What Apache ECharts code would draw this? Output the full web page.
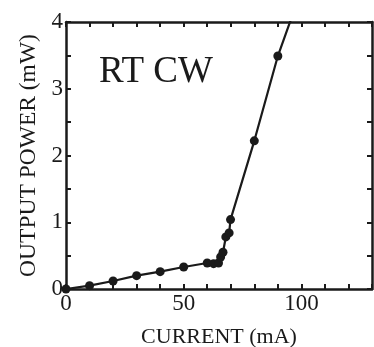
<!DOCTYPE html>
<html>
<head>
<meta charset="utf-8">
<script src="https://cdn.jsdelivr.net/npm/echarts@6/dist/echarts.min.js"></script>
<style>
  html, body { margin: 0; padding: 0; background: #fff; }
  #chart { width: 374px; height: 347px; }
</style>
</head>
<body>
<div id="chart"></div>
<script>
// measured points (mA, mW)
const current = [0, 10, 20, 30, 40, 50, 60, 62.7, 64.8, 65.7, 66.7, 67.9, 69.3, 69.9, 80, 90];
const power = [0, 0.05, 0.12, 0.2, 0.26, 0.33, 0.39, 0.38, 0.39, 0.48, 0.55, 0.78, 0.84, 1.04, 2.22, 3.49];
// line runs past the top of the frame
const lineEnd = [98, 4.28];
const xLabels = [0, 50, 100];
const yLabels = [0, 1, 2, 3, 4];

const chart = echarts.init(document.getElementById('chart'));

const ink = '#1a1a1a';
const serif = '"Liberation Serif", "DejaVu Serif", serif';

const pts = current.map((c, i) => [c, power[i]]);
pts.push({ value: lineEnd, symbol: 'none' });

const tick = { show: true, inside: true, length: 5, lineStyle: { color: ink, width: 2 } };
const frameLine = { show: true, onZero: false, lineStyle: { color: ink, width: 2.5 } };

chart.setOption({
  animation: false,
  grid: { left: 66, right: 2, top: 22, bottom: 58, outerBoundsMode: 'none' },
  xAxis: [
    {
      type: 'value', min: 0, max: 130, interval: 10,
      axisLine: frameLine, axisTick: tick, splitLine: { show: false },
      axisLabel: {
        color: ink, fontFamily: serif, fontSize: 23, margin: 3,
        formatter: v => (xLabels.includes(v) ? String(v) : '')
      },
      name: 'CURRENT (mA)', nameLocation: 'middle', nameGap: 37,
      nameTextStyle: { color: ink, fontFamily: serif, fontSize: 22 }
    },
    {
      type: 'value', position: 'top', min: 0, max: 130, interval: 10,
      axisLine: frameLine, axisTick: tick, axisLabel: { show: false }, splitLine: { show: false }
    }
  ],
  yAxis: [
    {
      type: 'value', min: 0, max: 4, interval: 0.5,
      axisLine: frameLine, axisTick: tick, splitLine: { show: false },
      axisLabel: {
        color: ink, fontFamily: serif, fontSize: 23, margin: 3,
        formatter: v => (yLabels.includes(v) ? String(v) : '')
      },
      name: 'OUTPUT POWER (mW)', nameLocation: 'middle', nameGap: 23,
      nameTextStyle: { color: ink, fontFamily: serif, fontSize: 23.5 }
    },
    {
      type: 'value', position: 'right', min: 0, max: 4, interval: 0.5,
      axisLine: frameLine, axisTick: tick, axisLabel: { show: false }, splitLine: { show: false }
    }
  ],
  graphic: [
    {
      type: 'text', left: 99, top: 54,
      style: { text: 'RT CW', fill: ink, font: '37px ' + serif }
    }
  ],
  series: [
    {
      type: 'line',
      data: pts,
      symbol: 'circle',
      symbolSize: 9,
      clip: true,
      lineStyle: { color: ink, width: 2.2 },
      itemStyle: { color: ink }
    }
  ]
});
</script>
</body>
</html>
